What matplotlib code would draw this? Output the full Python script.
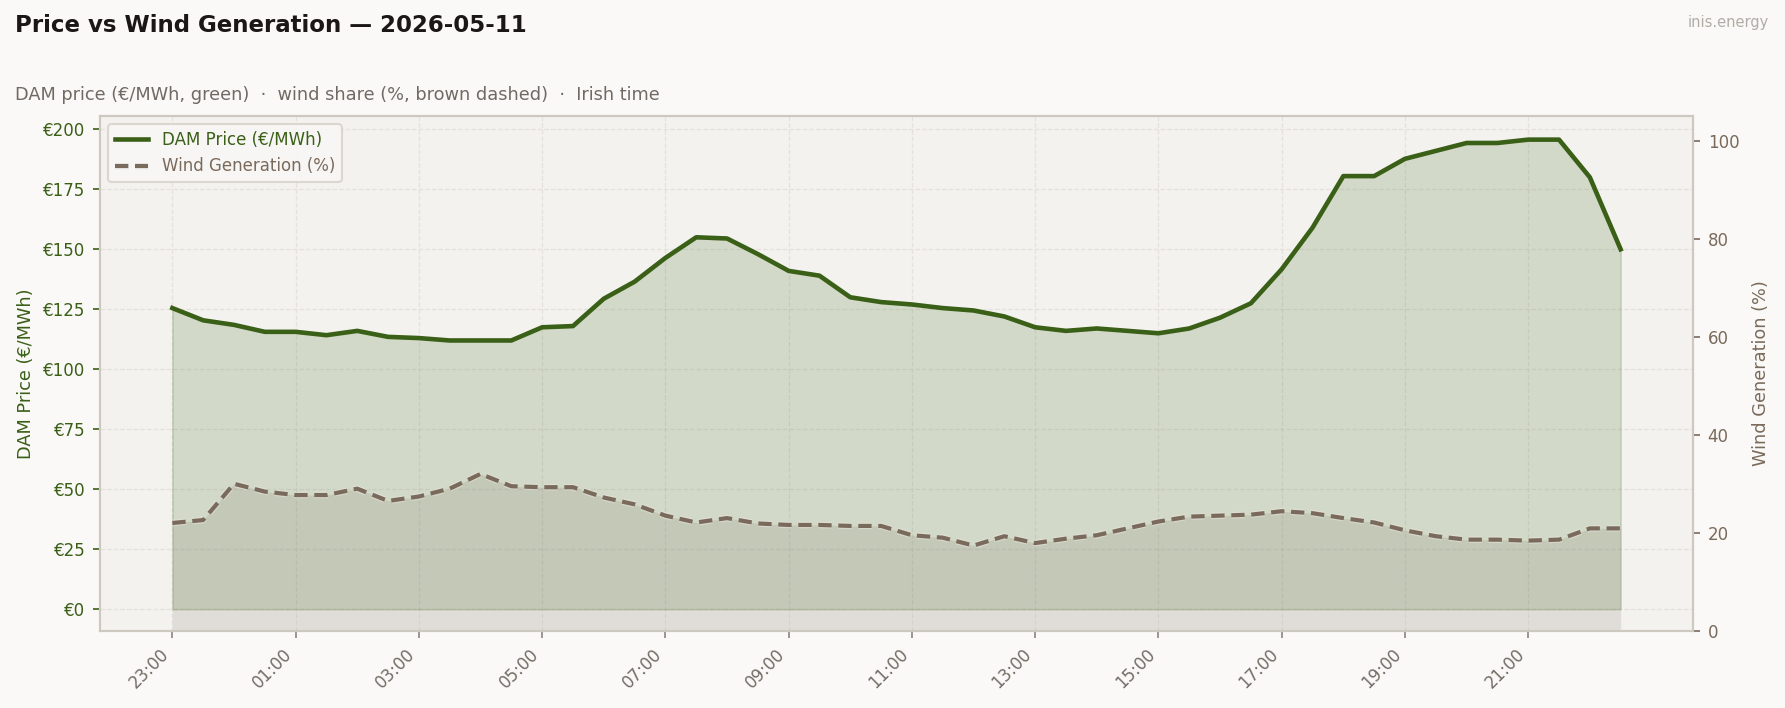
import numpy as np
import pandas as pd
import matplotlib
matplotlib.use("Agg")
import matplotlib.pyplot as plt
import matplotlib.dates as mdates
import matplotlib.patheffects as pe
from matplotlib.ticker import FuncFormatter, MultipleLocator, FixedLocator

# half-hourly, Irish time, 23:00 on the 10th to 22:30 on the 11th
times = pd.date_range("2026-05-10 23:00", periods=48, freq="30min")

price = [125.5, 120.4, 118.5, 115.6, 115.6, 114.2, 116.0, 113.5, 113.0, 112.0,
         112.0, 112.0, 117.5, 118.0, 129.4, 136.5, 146.4, 155.0, 154.5, 148.0,
         141.0, 139.0, 130.0, 128.0, 127.0, 125.5, 124.5, 122.0, 117.5, 116.0,
         117.0, 116.0, 115.0, 117.0, 121.5, 127.5, 141.7, 159.0, 180.5, 180.5,
         187.7, 191.0, 194.3, 194.3, 195.7, 195.7, 180.0, 150.0]

wind = [22.0, 22.6, 30.0, 28.4, 27.7, 27.7, 29.0, 26.5, 27.4, 29.0,
        32.0, 29.5, 29.3, 29.3, 27.2, 25.8, 23.5, 22.1, 23.0, 21.9,
        21.6, 21.6, 21.4, 21.4, 19.5, 19.0, 17.4, 19.3, 17.9, 18.8,
        19.5, 20.9, 22.3, 23.3, 23.5, 23.7, 24.4, 24.0, 23.0, 22.1,
        20.5, 19.3, 18.6, 18.6, 18.4, 18.6, 20.9, 20.9]

GREEN = "#3a5f17"
BROWN = "#7a6a5b"
GRID = "#e2ded8"
SPINE = "#cdc8c0"

fig = plt.figure(figsize=(11.9, 4.72), dpi=150, facecolor="#faf9f7")
ax = fig.add_axes([0.056, 0.109, 0.8925, 0.727])
ax.set_facecolor("#f3f2ef")
ax2 = ax.twinx()

ax.fill_between(times, 0, price, color="#3d6b1a", alpha=0.18, lw=0.8)
l1, = ax.plot(times, price, color=GREEN, lw=2.2, label="DAM Price (€/MWh)", zorder=3)

ax2.fill_between(times, 0, wind, color=BROWN, alpha=0.15, lw=0)
l2, = ax2.plot(times, wind, color=BROWN, lw=2.0, ls="--", dashes=(3.2, 1.6),
               label="Wind Generation (%)",
               path_effects=[pe.withStroke(linewidth=3.2, foreground="#e8e6df", alpha=0.5)])

ax.set_ylim(-9, 205.5)
ax2.set_ylim(0, 105)
ax.yaxis.set_major_locator(MultipleLocator(25))
ax.yaxis.set_major_formatter(FuncFormatter(lambda v, p: f"€{v:.0f}"))

# a tick every two hours, only within the data
ax.xaxis.set_major_locator(FixedLocator(mdates.date2num(times[::4])))
ax.xaxis.set_major_formatter(mdates.DateFormatter("%H:%M"))
plt.setp(ax.get_xticklabels(), rotation=45, ha="right")

ax.grid(True, color=GRID, ls="--", lw=0.6, alpha=0.8)
ax.set_axisbelow(True)

ax.tick_params(axis="y", colors=GREEN, labelsize=8)
ax.tick_params(axis="x", colors="#736d66", labelsize=8)
ax2.tick_params(axis="y", colors=BROWN, labelsize=8)
for a in (ax, ax2):
    for s in a.spines.values():
        s.set_color(SPINE)
        s.set_linewidth(1.0)
ax.tick_params(axis="x", color="#8a847c")

ax.set_ylabel("DAM Price (€/MWh)", color=GREEN, fontsize=8.5)
ax2.set_ylabel("Wind Generation (%)", color=BROWN, fontsize=8.5, labelpad=6)

leg = ax2.legend(handles=[l1, l2], loc="upper left", fontsize=8,
                 frameon=True, facecolor="#f8f7f5", edgecolor="#d8d4cd", framealpha=0.9)
leg.get_texts()[0].set_color(GREEN)
leg.get_texts()[1].set_color(BROWN)

fig.text(15 / 1785, 1 - 25 / 708, "Price vs Wind Generation — 2026-05-11",
         fontsize=11, fontweight="bold", color="#1a1714", va="center")
fig.text(15 / 1785, 1 - 95 / 708,
         "DAM price (€/MWh, green)  ·  wind share (%, brown dashed)  ·  Irish time",
         fontsize=8.5, color="#716a64", va="center")
fig.text(1769 / 1785, 1 - 22 / 708, "inis.energy", fontsize=7, color="#b0aca6",
         ha="right", va="center")

fig.savefig("out.png", dpi=150, facecolor=fig.get_facecolor())
